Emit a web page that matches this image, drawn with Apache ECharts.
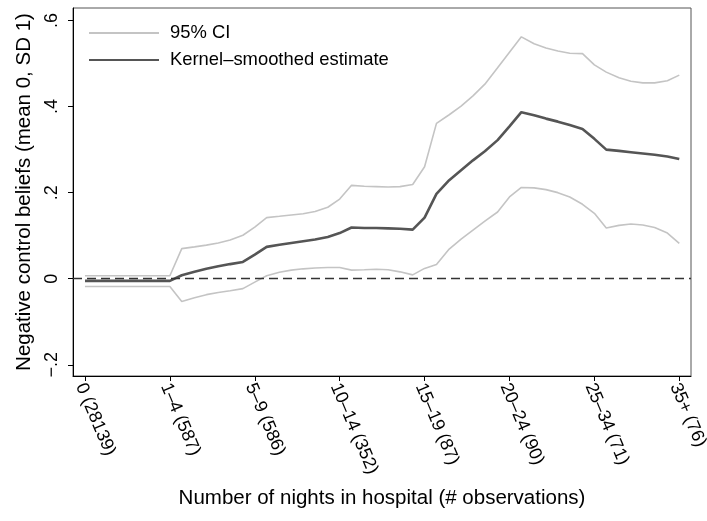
<!DOCTYPE html>
<html>
<head>
<meta charset="utf-8">
<script src="https://cdn.jsdelivr.net/npm/echarts@6/dist/echarts.min.js"></script>
<style>html,body{margin:0;padding:0;background:#fff}#c{width:707px;height:521px}</style>
</head>
<body>
<div id="c"></div>
<script>
var xLabels = ['0 (28139)', '1\u20134 (587)', '5\u20139 (586)', '10\u201314 (352)', '15\u201319 (87)', '20\u201324 (90)', '25\u201334 (71)', '35+ (76)'];
var xTickValues = [0, 1, 2, 3, 4, 5, 6, 7];
var yTickValues = [-0.2, 0, 0.2, 0.4, 0.6];
var yTickLabels = ['\u2212.2', '0', '.2', '.4', '.6'];

var xPos = [0, 0.14, 0.29, 0.43, 0.57, 0.71, 0.86, 1,
  1.14, 1.29, 1.43, 1.57, 1.71, 1.86, 2,
  2.14, 2.29, 2.43, 2.57, 2.71, 2.86, 3,
  3.14, 3.29, 3.43, 3.57, 3.71, 3.86, 4,
  4.14, 4.29, 4.43, 4.57, 4.71, 4.86, 5,
  5.14, 5.29, 5.43, 5.57, 5.71, 5.86, 6,
  6.14, 6.29, 6.43, 6.57, 6.71, 6.86, 7];

var estimate = [-0.005, -0.005, -0.005, -0.005, -0.005, -0.005, -0.005, -0.005,
  0.008, 0.016, 0.023, 0.029, 0.034, 0.039, 0.056,
  0.074, 0.079, 0.083, 0.087, 0.091, 0.097, 0.106,
  0.119, 0.118, 0.118, 0.117, 0.116, 0.114, 0.142,
  0.197, 0.229, 0.252, 0.275, 0.296, 0.322, 0.354,
  0.387, 0.380, 0.372, 0.365, 0.357, 0.348, 0.325,
  0.300, 0.297, 0.294, 0.291, 0.288, 0.284, 0.278];

var ciUpper = [0.007, 0.007, 0.007, 0.007, 0.007, 0.007, 0.007, 0.007,
  0.070, 0.074, 0.078, 0.083, 0.090, 0.101, 0.120,
  0.142, 0.145, 0.148, 0.151, 0.156, 0.166, 0.185,
  0.217, 0.215, 0.214, 0.213, 0.214, 0.219, 0.260,
  0.361, 0.381, 0.401, 0.425, 0.452, 0.490, 0.526,
  0.562, 0.546, 0.536, 0.529, 0.524, 0.523, 0.497,
  0.480, 0.467, 0.459, 0.455, 0.455, 0.460, 0.473];

var ciLower = [-0.018, -0.018, -0.018, -0.018, -0.018, -0.018, -0.018, -0.018,
  -0.053, -0.044, -0.037, -0.032, -0.028, -0.023, -0.008,
  0.007, 0.015, 0.020, 0.023, 0.025, 0.026, 0.026,
  0.020, 0.021, 0.022, 0.021, 0.016, 0.009, 0.024,
  0.033, 0.069, 0.092, 0.113, 0.134, 0.155, 0.190,
  0.212, 0.211, 0.207, 0.200, 0.190, 0.173, 0.152,
  0.118, 0.124, 0.127, 0.125, 0.119, 0.106, 0.082];

function pairs(ys) { return xPos.map(function (x, i) { return [x, ys[i]]; }); }

var FONT = '"Liberation Sans", Arial, Helvetica, sans-serif';
var chart = echarts.init(document.getElementById('c'), null, {renderer: 'canvas'});
chart.setOption({
  animation: false,
  backgroundColor: '#fff',
  textStyle: {fontFamily: FONT},
  grid: {left: 73, top: 8, right: 16, bottom: 145, show: true, borderColor: '#555', borderWidth: 1, backgroundColor: 'transparent', outerBoundsMode: 'none'},
  legend: {
    data: ['95% CI', 'Kernel\u2013smoothed estimate'],
    orient: 'vertical', left: 88, top: 24, padding: 0,
    itemWidth: 70, itemHeight: 14, itemGap: 9,
    itemStyle: {opacity: 0},
    textStyle: {fontSize: 18.4, color: '#000', fontFamily: FONT, padding: [0, 0, 0, 6]}
  },
  xAxis: {
    type: 'value', min: -0.141, max: 7.138,
    name: 'Number of nights in hospital (# observations)',
    nameLocation: 'middle', nameGap: 112,
    nameTextStyle: {fontSize: 20.5, color: '#000', fontFamily: FONT},
    splitLine: {show: false},
    axisLine: {show: true, onZero: false, lineStyle: {color: '#000', width: 1}},
    axisTick: {show: true, length: 5, lineStyle: {color: '#000'}, customValues: xTickValues},
    axisLabel: {
      customValues: xTickValues, rotate: -67, margin: 6,
      verticalAlign: 'top', lineHeight: 10,
      fontSize: 18, color: '#000', fontFamily: FONT,
      formatter: function (v) { return xLabels[Math.round(v)]; }
    }
  },
  yAxis: {
    type: 'value', min: -0.226, max: 0.629,
    name: 'Negative control beliefs (mean 0, SD 1)',
    nameLocation: 'middle', nameGap: 38, nameRotate: 90,
    nameTextStyle: {fontSize: 20.5, color: '#000', fontFamily: FONT},
    splitLine: {show: false},
    axisLine: {show: true, onZero: false, lineStyle: {color: '#000', width: 1}},
    axisTick: {show: true, length: 5, lineStyle: {color: '#000'}, customValues: yTickValues},
    axisLabel: {
      customValues: yTickValues, rotate: 90, margin: 12,
      fontSize: 18, color: '#000', fontFamily: FONT,
      formatter: function (v) {
        for (var i = 0; i < yTickValues.length; i++) { if (Math.abs(yTickValues[i] - v) < 1e-6) return yTickLabels[i]; }
        return '';
      }
    }
  },
  series: [
    {name: '95% CI', type: 'line', data: pairs(ciUpper), symbol: 'none', color: '#c4c4c4',
      lineStyle: {color: '#c4c4c4', width: 1.6}, z: 2},
    {name: '95% CI', type: 'line', data: pairs(ciLower), symbol: 'none', color: '#c4c4c4',
      lineStyle: {color: '#c4c4c4', width: 1.6}, z: 2},
    {name: 'Kernel\u2013smoothed estimate', type: 'line', data: pairs(estimate), symbol: 'none', color: '#555555',
      lineStyle: {color: '#555555', width: 2.6}, z: 3,
      markLine: {silent: true, symbol: 'none', label: {show: false},
        lineStyle: {color: '#333', type: [9, 5], width: 1.4},
        data: [{yAxis: 0}]}}
  ]
});
</script>
</body>
</html>
